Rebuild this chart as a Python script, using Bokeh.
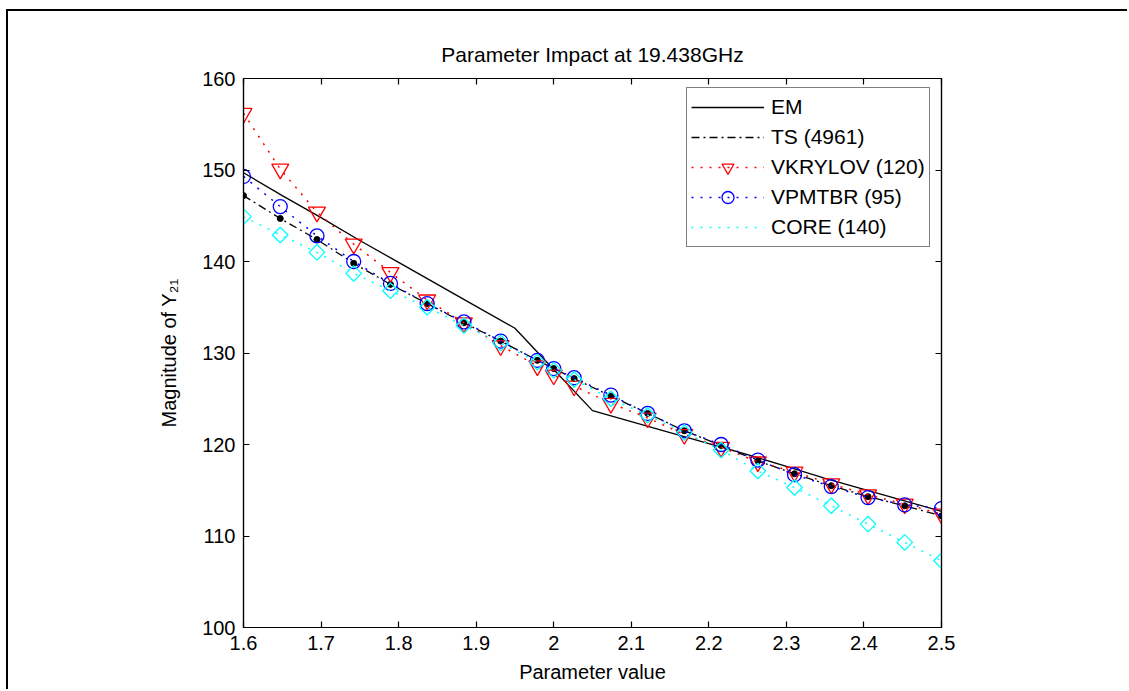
import numpy as np
from bokeh.plotting import figure
from bokeh.models import (Range1d, FixedTicker, LinearAxis, Legend, LegendItem)
from bokeh.embed import file_html
from bokeh.resources import INLINE

# ---- data ----
x_pts = [1.6, 1.6474, 1.6947, 1.7421, 1.7895, 1.8368, 1.8842, 1.9316, 1.9789, 2.0,
         2.0263, 2.0737, 2.1211, 2.1684, 2.2158, 2.2632, 2.3105, 2.3579, 2.4053,
         2.4526, 2.5]
ts = [147.2, 144.7, 142.4, 139.8, 137.5, 135.4, 133.3, 131.3, 129.2, 128.3,
      127.2, 125.3, 123.4, 121.5, 119.9, 118.2, 116.8, 115.5, 114.3, 113.3, 112.2]
vkrylov = [156.2, 150.1, 145.4, 141.9, 138.8, 135.8, 133.3, 130.8, 128.6, 127.6,
           126.4, 124.5, 122.9, 121.1, 119.7, 118.1, 117.0, 115.7, 114.5, 113.5, 112.4]
vpmtbr = [149.3, 146.0, 142.8, 140.0, 137.6, 135.4, 133.4, 131.3, 129.2, 128.3,
          127.3, 125.4, 123.4, 121.5, 120.0, 118.3, 116.7, 115.4, 114.2, 113.4, 113.0]
core = [144.9, 142.9, 141.0, 138.7, 136.8, 135.0, 133.0, 131.1, 129.0, 128.1,
        127.1, 125.0, 123.2, 121.3, 119.4, 117.1, 115.3, 113.3, 111.3, 109.3, 107.3]

x_em = [1.6, 1.65, 1.7, 1.75, 1.8, 1.85, 1.9, 1.95, 2.0, 2.05, 2.1, 2.15, 2.2,
        2.25, 2.3, 2.35, 2.4, 2.45, 2.5]
em = [149.7, 147.2, 144.8, 142.3, 139.9, 137.5, 135.1, 132.7, 128.2, 123.7,
      122.5, 121.3, 120.1, 118.9, 117.6, 116.3, 115.1, 113.9, 112.7]

x_ticks = [1.6, 1.7, 1.8, 1.9, 2.0, 2.1, 2.2, 2.3, 2.4, 2.5]
x_tick_labels = ["1.6", "1.7", "1.8", "1.9", "2", "2.1", "2.2", "2.3", "2.4", "2.5"]
y_ticks = [100, 110, 120, 130, 140, 150, 160]
y_tick_labels = ["100", "110", "120", "130", "140", "150", "160"]

labels = ["EM", "TS (4961)", "VKRYLOV (120)", "VPMTBR (95)", "CORE (140)"]

FONT = "Liberation Sans"
FS = "20px"

# The page frame: a 2px line at the top and left, drawn as a shadow of the element.
CX0, CY0 = 8, 11           # canvas top-left in the window
CW = 1129 - CX0
CH = 691 - CY0

p = figure(width=CW, height=CH,
           output_backend="svg", toolbar_location=None,
           x_range=Range1d(1.6, 2.5), y_range=Range1d(100, 160),
           min_border_left=243 - CX0, min_border_right=(CX0 + CW) - 941,
           min_border_top=78 - CY0, min_border_bottom=(CY0 + CH) - 627)
p.styles = {"margin-left": f"{CX0}px", "margin-top": f"{CY0}px",
            "box-shadow": "-2px -2px 0px 0px black"}
p.background_fill_color = "white"
p.border_fill_color = "white"
p.outline_line_color = "black"
p.outline_line_width = 1.2
p.xgrid.visible = False
p.ygrid.visible = False

p.title.text = "Parameter Impact at 19.438GHz"
p.title.align = "center"
p.title.text_font = FONT
p.title.text_font_size = "21px"
p.title.text_font_style = "normal"
p.title.text_color = "black"
p.title.standoff = 26


def style_axis(ax, ticks, tick_labels, show_labels=True):
    ax.ticker = FixedTicker(ticks=ticks)
    ax.minor_tick_line_color = None
    ax.major_tick_in = 6
    ax.major_tick_out = 0
    ax.major_tick_line_color = "black"
    ax.major_tick_line_width = 1.2
    ax.axis_line_color = "black"
    ax.axis_line_width = 1.2
    ax.major_label_text_font = FONT
    ax.major_label_text_color = "black"
    ax.axis_label_text_font = FONT
    ax.axis_label_text_font_size = FS
    ax.axis_label_text_font_style = "normal"
    ax.axis_label_text_color = "black"
    if show_labels:
        ax.major_label_overrides = dict(zip(ticks, tick_labels))
        ax.major_label_text_font_size = FS
        ax.major_label_standoff = 8
    else:
        ax.major_label_overrides = {t: "" for t in ticks}
        ax.major_label_text_font_size = "1px"
        ax.major_label_standoff = 0


style_axis(p.xaxis[0], x_ticks, x_tick_labels)
style_axis(p.yaxis[0], y_ticks, y_tick_labels)
p.xaxis[0].axis_label = "Parameter value"
p.xaxis[0].axis_label_standoff = 8
p.yaxis[0].axis_label = "Magnitude of Y\u2082\u2081"
p.yaxis[0].axis_label_standoff = 19

top_ax = LinearAxis()
right_ax = LinearAxis()
style_axis(top_ax, x_ticks, x_tick_labels, show_labels=False)
style_axis(right_ax, y_ticks, y_tick_labels, show_labels=False)
p.add_layout(top_ax, "above")
p.add_layout(right_ax, "right")

# ---- series ----
r_em = p.line(x_em, em, line_color="black", line_width=1.3)

r_ts_l = p.line(x_pts, ts, line_color="black", line_width=1.3, line_dash="8 4 2 4")
r_ts_m = p.scatter(x_pts, ts, marker="circle", size=6, fill_color="black",
                   line_color="black")
r_ts_leg = p.scatter([], [], marker="dot", size=14, line_color="black",
                     line_width=1.3)

r_vk_l = p.line(x_pts, vkrylov, line_color="red", line_width=1.5, line_dash="2 7")
r_vk_m = p.scatter(x_pts, vkrylov, marker="inverted_triangle", size=17,
                   fill_color=None, line_color="red", line_width=1.3)

r_vp_l = p.line(x_pts, vpmtbr, line_color="blue", line_width=1.5, line_dash="2 7")
r_vp_m = p.scatter(x_pts, vpmtbr, marker="circle", size=14,
                   fill_color=None, line_color="blue", line_width=1.3)

r_co_l = p.line(x_pts, core, line_color="cyan", line_width=1.5, line_dash="2 7")
r_co_m = p.scatter(x_pts, core, marker="square", size=11, angle=np.pi / 4,
                   fill_color=None, line_color="cyan", line_width=1.3)
# diamond glyph used only for the legend sample (no data)
r_co_leg = p.scatter([], [], marker="diamond", size=14,
                     fill_color=None, line_color="cyan", line_width=1.3)

items = [
    LegendItem(label=labels[0], renderers=[r_em]),
    LegendItem(label=labels[1], renderers=[r_ts_l, r_ts_leg]),
    LegendItem(label=labels[2], renderers=[r_vk_l, r_vk_m]),
    LegendItem(label=labels[3], renderers=[r_vp_l, r_vp_m]),
    LegendItem(label=labels[4], renderers=[r_co_l, r_co_leg]),
]
legend = Legend(items=items, location=(443, 380), padding=4, spacing=0,
                glyph_width=73, glyph_height=30, label_height=20,
                label_standoff=7, label_text_font=FONT, label_text_font_size="21px",
                label_text_color="black", border_line_color="black",
                border_line_width=1.2, background_fill_color="white",
                background_fill_alpha=1.0, margin=0)
p.add_layout(legend)

open("out.html", "w").write(file_html(p, INLINE))
